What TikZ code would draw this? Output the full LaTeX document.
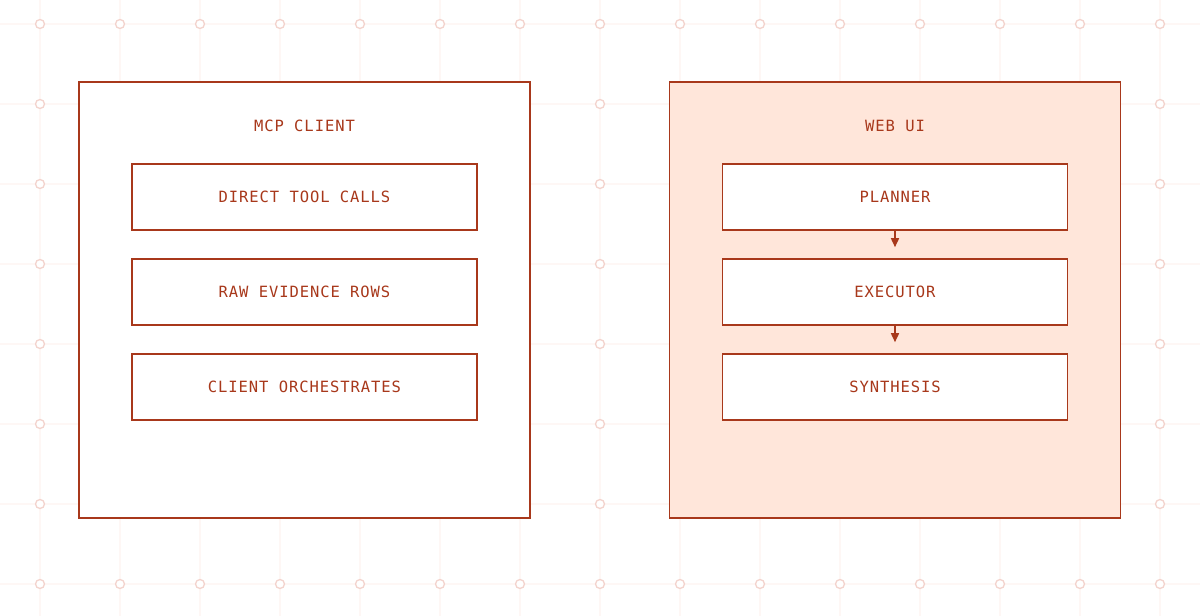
\documentclass[tikz,border=0pt]{standalone}
\usepackage{fontspec}
\setmonofont{DejaVu Sans Mono}[LetterSpace=6]
\usepackage{xcolor}
\usetikzlibrary{positioning,arrows.meta}
\definecolor{rust}{HTML}{A8381B}
\definecolor{peach}{HTML}{FFE6DA}
\definecolor{gridline}{HTML}{FEF7F5}
\definecolor{dotline}{HTML}{F3D3CD}

\begin{document}
\begin{tikzpicture}[x=1pt,y=-1pt,>={Triangle[width=8pt,length=9pt]},
  panel/.style={draw=rust,line width=1.6pt,minimum width=451pt,minimum height=436pt,inner sep=0pt},
  title/.style={font=\ttfamily\fontsize{15.5}{18}\selectfont,text=rust},
  stage/.style={draw=rust,line width=1.6pt,fill=white,minimum width=345pt,minimum height=66pt,
    inner sep=0pt,font=\ttfamily\fontsize{15.5}{18}\selectfont,text=rust},
  node distance=27.4pt]
\useasboundingbox (0,0) rectangle (1200,616);
% ---- griglia di sfondo ----
\foreach \x in {40,120,...,1160}
  \draw[gridline,line width=1.5pt] (\x,0)--(\x,616);
\foreach \y in {24,104,...,584}
  \draw[gridline,line width=1.5pt] (0,\y)--(1200,\y);
\foreach \x in {40,120,...,1160}
  \foreach \y in {24,104,...,584}
    \draw[dotline,fill=white,line width=1.3pt] (\x,\y) circle (4.5pt);
% ---- pannello sinistro: client ----
\node[panel,fill=white] (client) at (304.5,300) {};
\node[title] (clientT) at (304.5,126) {MCP CLIENT};
\node[stage] (direct) at (304.5,197) {DIRECT TOOL CALLS};
\node[stage,below=of direct] (raw) {RAW EVIDENCE ROWS};
\node[stage,below=of raw] (orch) {CLIENT ORCHESTRATES};
% ---- pannello destro: web ui ----
\node[panel,fill=peach] (web) at (895,300) {};
\node[title] (webT) at (895,126) {WEB UI};
\node[stage] (planner) at (895,197) {PLANNER};
\node[stage,below=of planner] (exec) {EXECUTOR};
\node[stage,below=of exec] (synth) {SYNTHESIS};
\draw[->,rust,line width=1.6pt,shorten >=11pt] (planner)--(exec);
\draw[->,rust,line width=1.6pt,shorten >=11pt] (exec)--(synth);
\end{tikzpicture}
\end{document}
